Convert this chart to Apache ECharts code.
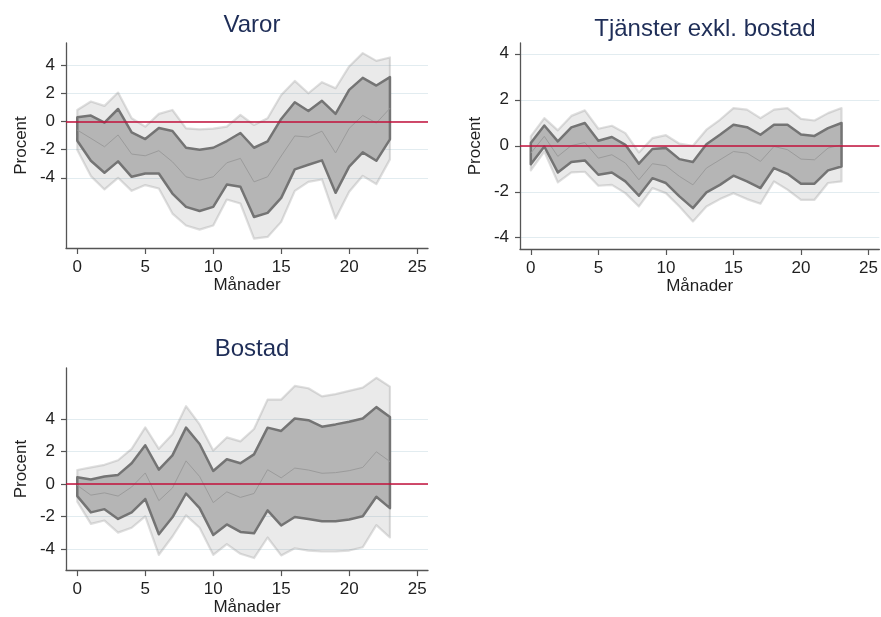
<!DOCTYPE html>
<html>
<head>
<meta charset="utf-8">
<title>Prisindex – Varor, Tjänster exkl. bostad, Bostad</title>
<script src="https://cdn.jsdelivr.net/npm/echarts@6/dist/echarts.min.js"></script>
<style>
  html, body { margin: 0; padding: 0; background: #ffffff; }
  #chart { width: 881px; height: 617px; }
</style>
</head>
<body>
<div id="chart"></div>
<script>
// Horizon in months
const months = [0,1,2,3,4,5,6,7,8,9,10,11,12,13,14,15,16,17,18,19,20,21,22,23];
const xTicks = [0, 5, 10, 15, 20, 25];
const yTicks = [-4, -2, 0, 2, 4];

// Varor: outer band, inner band and central path (percent)
const varorOuterHi = [0.83,1.43,1.12,2.07,0.24,-0.36,0.55,0.83,-0.48,-0.55,-0.50,-0.36,0.48,-0.24,0.24,1.90,2.90,2.02,2.81,2.38,3.93,4.88,4.33,4.57];
const varorInnerHi = [0.31,0.43,-0.07,0.90,-0.76,-1.24,-0.45,-0.67,-1.86,-2.00,-1.86,-1.38,-0.81,-1.86,-1.40,0.19,1.38,0.76,1.48,0.55,2.26,3.12,2.57,3.17];
const varorMid     = [-0.60,-1.19,-1.79,-0.95,-2.31,-2.43,-2.07,-2.86,-3.93,-4.17,-3.93,-2.93,-2.62,-4.29,-3.93,-2.45,-1.02,-1.10,-0.68,-2.23,-0.48,0.44,-0.10,0.95];
const varorInnerLo = [-1.36,-2.79,-3.64,-2.83,-3.93,-3.69,-3.69,-5.12,-6.07,-6.36,-6.07,-4.48,-4.64,-6.79,-6.50,-5.43,-3.40,-3.07,-2.76,-5.07,-3.21,-2.19,-2.79,-1.26];
const varorOuterLo = [-2.02,-3.88,-4.83,-4.00,-4.93,-4.52,-4.76,-6.55,-7.40,-7.69,-7.40,-5.55,-5.83,-8.33,-8.21,-7.14,-4.93,-4.29,-4.12,-6.90,-5.00,-3.86,-4.45,-2.69];

// Tjänster exkl. bostad
const tjOuterHi = [0.41,1.20,0.67,1.30,1.54,0.74,0.87,0.55,-0.29,0.33,0.46,0.09,0.00,0.70,1.13,1.64,1.57,1.20,1.57,1.64,1.17,1.10,1.42,1.64];
const tjInnerHi = [0.12,0.88,0.19,0.80,0.99,0.22,0.38,0.04,-0.78,-0.14,-0.10,-0.58,-0.71,0.07,0.48,0.91,0.81,0.48,0.91,0.91,0.49,0.43,0.77,0.99];
const tjMid     = [-0.32,0.41,-0.46,0.01,0.14,-0.54,-0.39,-0.75,-1.48,-0.78,-0.87,-1.33,-1.70,-0.97,-0.61,-0.25,-0.32,-0.68,-0.03,-0.17,-0.58,-0.61,-0.10,0.04];
const tjInnerLo = [-0.80,-0.03,-1.16,-0.71,-0.64,-1.26,-1.16,-1.55,-2.17,-1.41,-1.62,-2.20,-2.71,-2.03,-1.70,-1.30,-1.55,-1.84,-0.97,-1.22,-1.65,-1.65,-1.07,-0.90];
const tjOuterLo = [-1.07,-0.25,-1.59,-1.16,-1.13,-1.74,-1.70,-2.06,-2.64,-1.84,-2.06,-2.64,-3.29,-2.64,-2.32,-2.06,-2.32,-2.52,-1.55,-1.91,-2.35,-2.35,-1.62,-1.55];

// Bostad
const bostadOuterHi = [0.86,1.02,1.18,1.46,2.16,3.48,2.16,3.06,4.78,3.66,2.06,2.86,2.62,3.38,5.18,5.18,6.02,5.88,5.38,5.52,5.72,5.92,6.52,5.98];
const bostadInnerHi = [0.42,0.28,0.46,0.56,1.28,2.38,0.88,1.76,3.46,2.46,0.80,1.52,1.28,1.82,3.46,3.26,4.02,3.92,3.52,3.66,3.82,4.02,4.72,4.12];
const bostadMid     = [-0.08,-0.68,-0.54,-0.74,-0.18,0.68,-1.02,-0.24,1.42,0.46,-1.14,-0.48,-0.82,-0.58,0.88,0.38,0.98,0.86,0.66,0.70,0.82,1.02,1.98,1.38];
const bostadInnerLo = [-0.74,-1.74,-1.54,-2.14,-1.74,-0.92,-3.08,-2.04,-0.58,-1.48,-3.12,-2.48,-2.94,-3.02,-1.62,-2.54,-2.02,-2.14,-2.28,-2.28,-2.18,-1.98,-0.78,-1.48];
const bostadOuterLo = [-1.08,-2.44,-2.24,-2.98,-2.68,-1.98,-4.34,-3.22,-1.92,-2.68,-4.34,-3.68,-4.28,-4.54,-3.28,-4.38,-3.94,-4.08,-4.14,-4.14,-4.08,-3.88,-2.52,-3.28];

const FONT = '"Liberation Sans", Arial, Helvetica, sans-serif';
const TEXT = '#1f1f1f';
const AXIS = '#555555';
const GRIDLINE = '#e2ecf0';

const panels = [
  { title: 'Varor', titleX: 247, titleY: 8,
    grid: { left: 66, top: 43, width: 362, height: 205 },
    xMin: -0.83, xMax: 25.8, yMin: -9.0, yMax: 5.6,
    oHi: varorOuterHi, iHi: varorInnerHi, mid: varorMid, iLo: varorInnerLo, oLo: varorOuterLo },
  { title: 'Tjänster exkl. bostad', titleX: 700, titleY: 12,
    grid: { left: 520, top: 43, width: 361, height: 206 },
    xMin: -0.8, xMax: 25.8, yMin: -4.49, yMax: 4.47,
    oHi: tjOuterHi, iHi: tjInnerHi, mid: tjMid, iLo: tjInnerLo, oLo: tjOuterLo },
  { title: 'Bostad', titleX: 247, titleY: 332,
    grid: { left: 66, top: 368, width: 362, height: 207 },
    xMin: -0.83, xMax: 25.8, yMin: -5.28, yMax: 7.12,
    oHi: bostadOuterHi, iHi: bostadInnerHi, mid: bostadMid, iLo: bostadInnerLo, oLo: bostadOuterLo }
];

// Closed band polygon between an upper and a lower path
function bandSeries(idx, upper, lower, fill, stroke, width, z) {
  return {
    type: 'custom',
    xAxisIndex: idx,
    yAxisIndex: idx,
    z: z,
    silent: true,
    data: months.map((m, i) => [m, lower[i], upper[i]]),
    encode: { x: 0, y: [1, 2] },
    renderItem: function (params, api) {
      if (params.dataIndex !== 0) return null;
      const pts = [];
      for (let i = 0; i < months.length; i++) pts.push(api.coord([months[i], upper[i]]));
      for (let i = months.length - 1; i >= 0; i--) pts.push(api.coord([months[i], lower[i]]));
      return {
        type: 'polygon',
        shape: { points: pts },
        style: { fill: fill, stroke: stroke, lineWidth: width, lineJoin: 'round' }
      };
    }
  };
}

const option = {
  animation: false,
  backgroundColor: '#ffffff',
  textStyle: { fontFamily: FONT },
  title: panels.map(p => ({
    text: p.title,
    left: p.titleX,
    top: p.titleY,
    textAlign: 'center',
    textStyle: { fontFamily: FONT, fontSize: 24, fontWeight: 'normal', color: '#1e2d57' }
  })),
  grid: panels.map(p => Object.assign({ containLabel: false }, p.grid)),
  xAxis: panels.map((p, i) => ({
    type: 'value',
    gridIndex: i,
    min: p.xMin,
    max: p.xMax,
    name: 'Månader',
    nameLocation: 'middle',
    nameGap: 28,
    nameTextStyle: { fontFamily: FONT, fontSize: 17, color: TEXT },
    axisLine: { show: true, onZero: false, lineStyle: { color: AXIS, width: 1.3 } },
    axisTick: { show: true, inside: false, length: 6, customValues: xTicks, lineStyle: { color: AXIS, width: 1.2 } },
    axisLabel: { show: true, customValues: xTicks, margin: 11, fontFamily: FONT, fontSize: 17, color: TEXT },
    splitLine: { show: false }
  })),
  yAxis: panels.map((p, i) => ({
    type: 'value',
    gridIndex: i,
    min: p.yMin,
    max: p.yMax,
    name: 'Procent',
    nameLocation: 'middle',
    nameRotate: 90,
    nameGap: 36,
    nameTextStyle: { fontFamily: FONT, fontSize: 17, color: TEXT },
    axisLine: { show: true, onZero: false, lineStyle: { color: AXIS, width: 1.3 } },
    axisTick: { show: true, inside: false, length: 5, customValues: yTicks, lineStyle: { color: AXIS, width: 1.2 } },
    axisLabel: { show: true, customValues: yTicks, margin: 11, fontFamily: FONT, fontSize: 17, color: TEXT },
    splitLine: { show: true, lineStyle: { color: GRIDLINE, width: 1.2 } }
  })),
  series: []
};

panels.forEach((p, i) => {
  option.series.push(bandSeries(i, p.oHi, p.oLo, 'rgba(150,150,150,0.2)', 'rgba(140,140,140,0.28)', 2.2, 2));
  option.series.push(bandSeries(i, p.iHi, p.iLo, '#b5b5b5', '#747474', 2.5, 3));
  option.series.push({
    type: 'line',
    xAxisIndex: i,
    yAxisIndex: i,
    z: 4,
    silent: true,
    symbol: 'none',
    data: months.map((m, k) => [m, p.mid[k]]),
    lineStyle: { color: '#9b9b9b', width: 1 },
    markLine: {
      silent: true,
      symbol: ['none', 'none'],
      label: { show: false },
      lineStyle: { color: '#c3113b', width: 1.6, type: 'solid' },
      data: [{ yAxis: 0 }]
    }
  });
});

const chart = echarts.init(document.getElementById('chart'), null, { renderer: 'canvas' });
chart.setOption(option);
</script>
</body>
</html>
